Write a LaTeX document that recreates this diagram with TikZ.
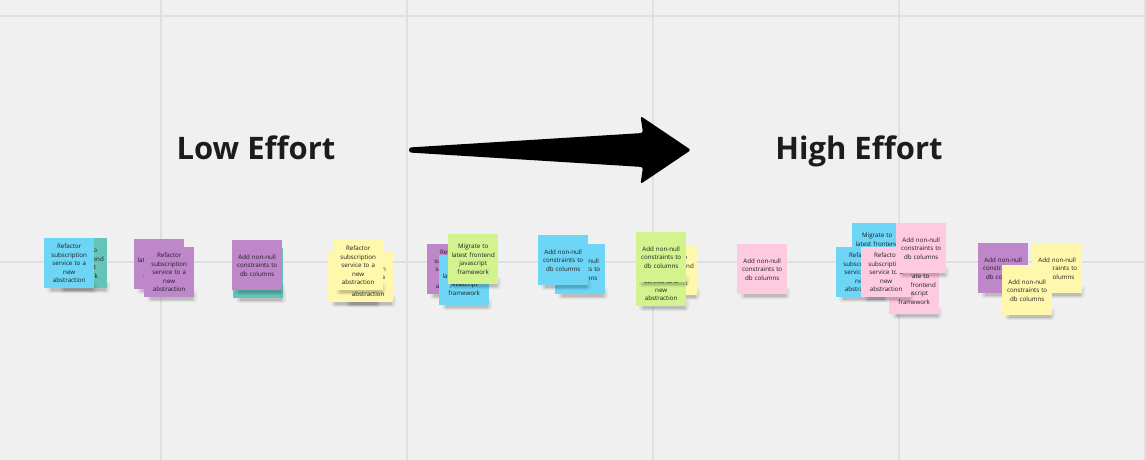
\documentclass[tikz,border=0pt]{standalone}
\usepackage{fontspec}
\setmainfont{Open Sans}
\definecolor{bg}{HTML}{F0F0F0}
\definecolor{gridc}{HTML}{E0E0E0}
\definecolor{ink}{HTML}{1C1C1C}
\definecolor{nblue}{HTML}{6DD5F5}
\definecolor{nteal}{HTML}{64C4B8}
\definecolor{npurple}{HTML}{BE87C9}
\definecolor{nyellow}{HTML}{FFF8AC}
\definecolor{ngreen}{HTML}{D3F38F}
\definecolor{npink}{HTML}{FDCADF}
\tikzset{
  stickynote/.style={anchor=north west, minimum width=50pt, minimum height=50pt,
    inner sep=1pt, text width=48pt, align=center, text=ink,
    font=\fontsize{6.2}{8.5}\selectfont},
  titletext/.style={anchor=base, text=ink, font=\fontsize{31}{36}\selectfont\bfseries},
  gridline/.style={draw=gridc, line width=1.6pt}
}
\newcommand\stickynote[5]{%
  \begin{scope}[shift={(#2,#3)}]
    \fill[black,opacity=0.05,rounded corners=3pt] (3,43) rectangle (53,55);
    \fill[black,opacity=0.07,rounded corners=2pt] (5,45) rectangle (51,54);
    \fill[black,opacity=0.10] (7,46) rectangle (49,53);
  \end{scope}
  \node[stickynote, fill=#4] (#1) at (#2,#3) {#5};
}
\newcommand\txtref{Refactor\\subscription\\service to a\\new\\abstraction}
\newcommand\txtmig{Migrate to\\latest frontend\\javascript\\framework}
\newcommand\txtadd{Add non-null\\constraints to\\db columns}
\begin{document}
\begin{tikzpicture}[x=1pt,y=-1pt]
\useasboundingbox (0,0) rectangle (1146,460);
\fill[bg] (0,0) rectangle (1146,460);
% grid
\foreach \gx in {161,407,653,899,1145} \draw[gridline] (\gx,0) -- (\gx,460);
\foreach \gy in {16,262} \draw[gridline] (0,\gy) -- (1146,\gy);
% titles
\node[titletext] (low) at (256,159) {Low Effort};
\node[titletext] (high) at (859,159) {High Effort};
% big arrow
\fill[black, rounded corners=2.5pt] (409,147.5) -- (643,133) -- (640.5,116) -- (691,150)
  -- (640.5,184) -- (643,167) -- (409,152.5) -- cycle;
% group 1
\stickynote{g1a}{57}{238}{nteal}{\txtmig}
\stickynote{g1b}{44}{238}{nblue}{\txtref}
% group 2
\stickynote{g2a}{134}{239}{npurple}{\txtmig}
\stickynote{g2b}{144}{247}{npurple}{\txtref}
% group 3
\stickynote{g3a}{233}{248}{nteal}{\txtadd}
\stickynote{g3b}{232}{240}{npurple}{\txtadd}
% group 4
\stickynote{g4a}{328}{252}{nyellow}{\txtadd}
\stickynote{g4b}{343}{252}{nyellow}{\txtref}
\stickynote{g4c}{333}{240}{nyellow}{\txtref}
% group 5
\stickynote{g5a}{427}{244}{npurple}{\txtref}
\stickynote{g5b}{439}{255}{nblue}{\txtmig}
\stickynote{g5c}{448}{234}{ngreen}{\txtmig}
% group 6
\stickynote{g6a}{555}{244}{nblue}{\txtadd}
\stickynote{g6b}{538}{235}{nblue}{\txtadd}
% group 7
\stickynote{g7a}{647}{245}{nyellow}{\txtmig}
\stickynote{g7b}{636}{256}{ngreen}{\txtref}
\stickynote{g7c}{636}{232}{ngreen}{\txtadd}
% group 8
\stickynote{g8a}{737}{244}{npink}{\txtadd}
% group 9
\stickynote{g9a}{852}{223}{nblue}{\txtmig}
\stickynote{g9b}{836}{247}{nblue}{\txtref}
\stickynote{g9c}{889}{264}{npink}{\txtmig}
\stickynote{g9d}{861}{247}{npink}{\txtref}
\stickynote{g9e}{896}{223}{npink}{\txtadd}
% group 10
\stickynote{g10a}{978}{243}{npurple}{\txtadd}
\stickynote{g10b}{1032}{243}{nyellow}{\txtadd}
\stickynote{g10c}{1002}{265}{nyellow}{\txtadd}
\end{tikzpicture}
\end{document}
